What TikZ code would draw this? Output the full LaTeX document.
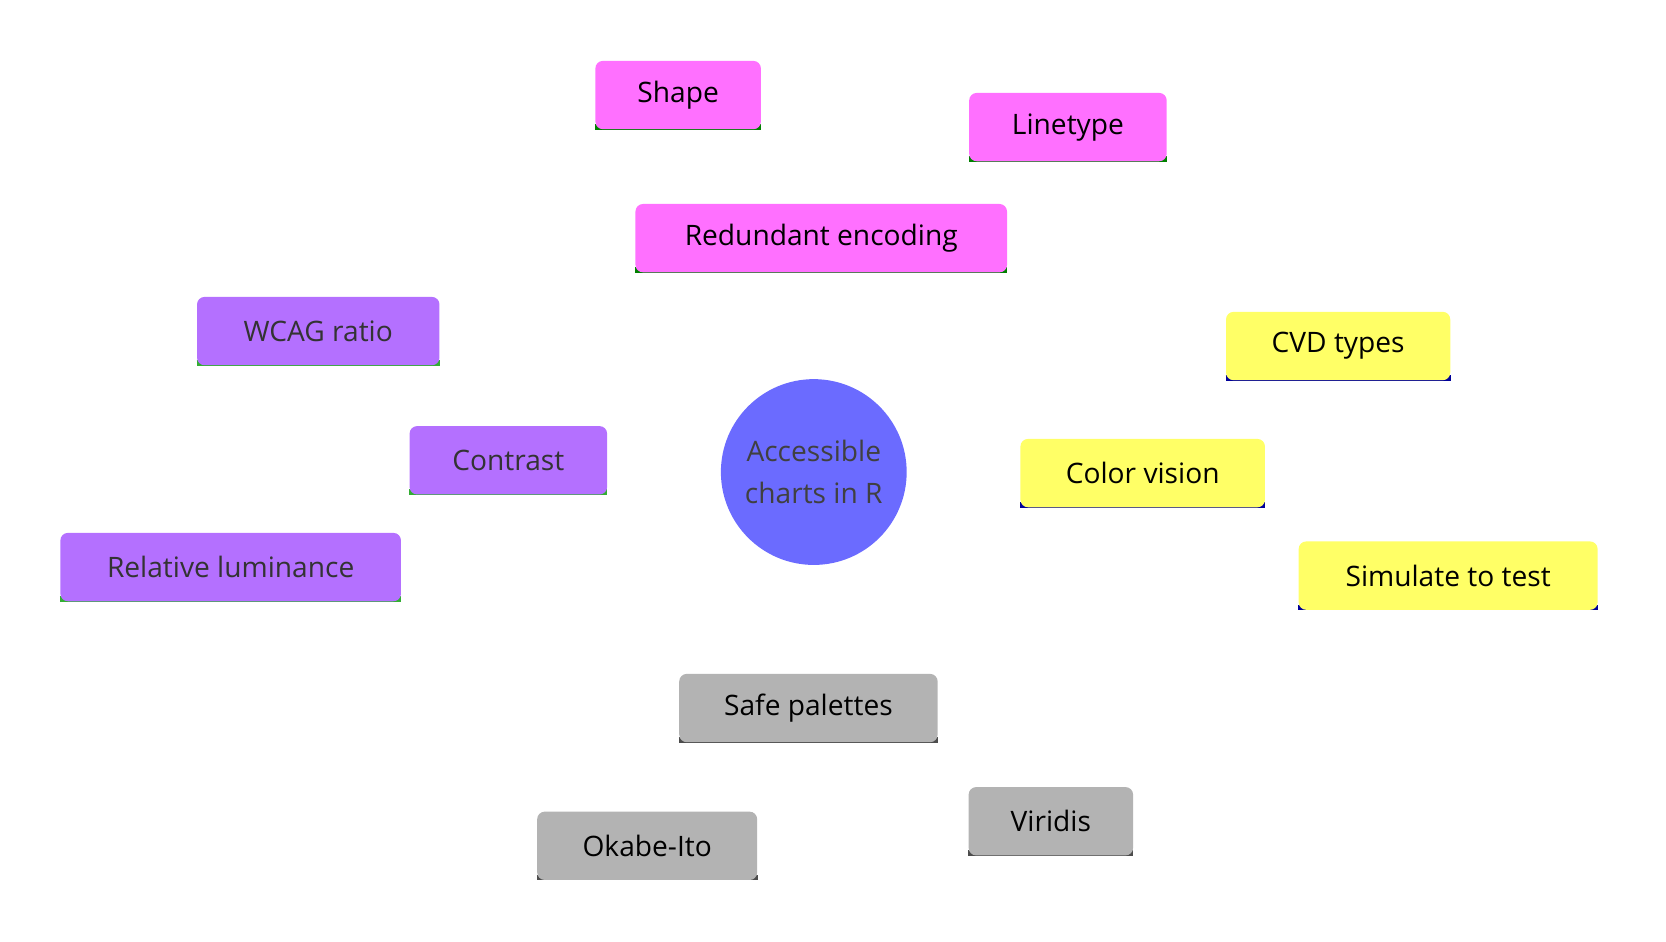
\documentclass[tikz,border=0pt]{standalone}
\usepackage{fontspec}
\setmainfont{Open Sans}
\usetikzlibrary{positioning}
\definecolor{rootc}{HTML}{6B6BFF}
\definecolor{redc}{HTML}{FF70FF}
\definecolor{conc}{HTML}{B470FF}
\definecolor{colc}{HTML}{FFFF66}
\definecolor{safc}{HTML}{B3B3B3}
\tikzset{
  box/.style={rectangle,rounded corners=4pt,inner sep=0pt,minimum height=1.28cm,
    font=\fontsize{15}{18}\selectfont,text=black},
  under/.style={append after command={
    \pgfextra{\draw[#1,line width=3pt] ([yshift=1.5pt]\tikzlastnode.south west) -- ([yshift=1.5pt]\tikzlastnode.south east);}}},
  trunk/.style={line width=0.32cm},
  twig/.style={line width=0.16cm}
}
\begin{document}
\begin{tikzpicture}[x=0.02cm,y=-0.02cm]
      \useasboundingbox (0,0) rectangle (1560,882);

      % nodes
      \node[circle,fill=rootc,minimum size=3.48cm,inner sep=0pt,align=center,
            font=\fontsize{15}{22}\selectfont,text=black!75] (root) at (762,442)
            {Accessible\\charts in R};

      \node[box,fill=redc,minimum width=6.96cm,under=green!50!black] (red) at (769,223) {Redundant encoding};
      \node[box,fill=redc,minimum width=3.1cm,under=green!50!black] (shape) at (635,89) {Shape};
      \node[box,fill=redc,minimum width=3.7cm,under=green!50!black] (line) at (1000,119) {Linetype};

      \node[box,fill=conc,minimum width=3.7cm,under={green!60!black!80},text=black!80] (con) at (476,431) {Contrast};
      \node[box,fill=conc,minimum width=4.54cm,under={green!60!black!80},text=black!80] (wcag) at (298,310) {WCAG ratio};
      \node[box,fill=conc,minimum width=6.38cm,under={green!60!black!80},text=black!80] (lum) at (216,531) {Relative luminance};

      \node[box,fill=colc,minimum width=4.58cm,under={blue!60!black}] (col) at (1070,443) {Color vision};
      \node[box,fill=colc,minimum width=4.2cm,under={blue!60!black}] (cvd) at (1253,324) {CVD types};
      \node[box,fill=colc,minimum width=5.6cm,under={blue!60!black}] (sim) at (1356,539) {Simulate to test};

      \node[box,fill=safc,minimum width=4.84cm,under=black!70] (safe) at (757,663) {Safe palettes};
      \node[box,fill=safc,minimum width=4.12cm,under=black!70] (okabe) at (606,792) {Okabe-Ito};
      \node[box,fill=safc,minimum width=3.08cm,under=black!70] (viri) at (984,769) {Viridis};

      % connectors
      \begin{scope}[on background layer/.style={}]
      \end{scope}
      \begin{pgfinterruptboundingbox}\end{pgfinterruptboundingbox}
\end{tikzpicture}
\end{document}
